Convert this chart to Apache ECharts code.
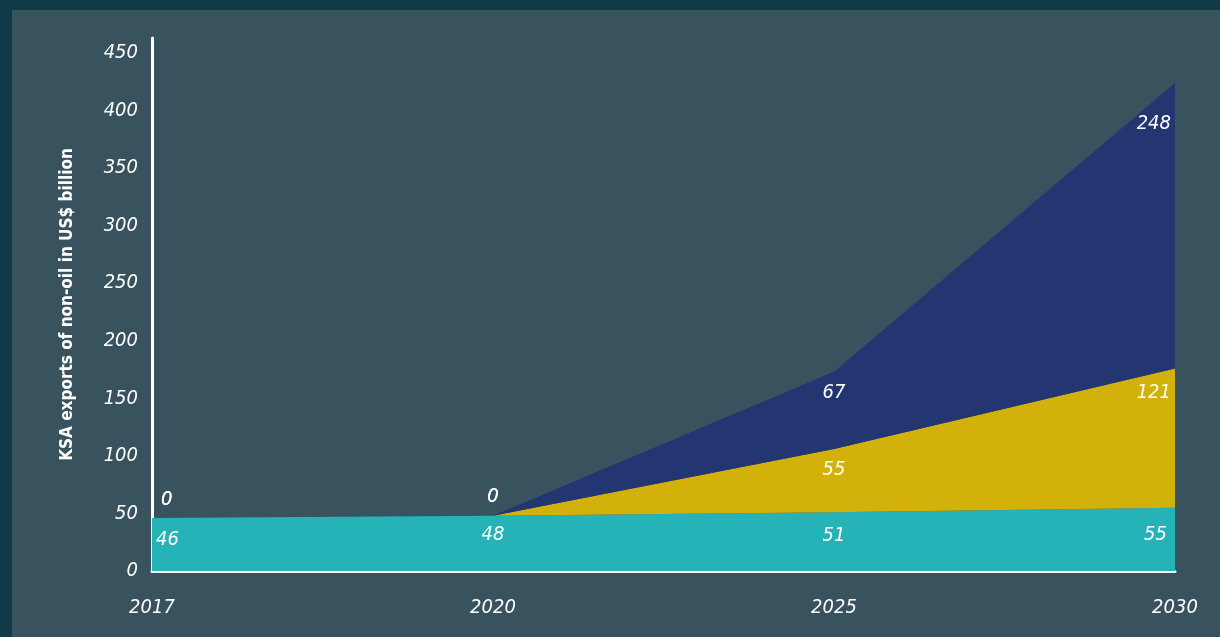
<!DOCTYPE html>
<html>
<head>
<meta charset="utf-8">
<script src="https://cdn.jsdelivr.net/npm/echarts@6/dist/echarts.min.js"></script>
<style>
html,body{margin:0;padding:0;width:1220px;height:637px;background:#103a45;overflow:hidden;}
#c{position:absolute;left:12px;top:10px;width:1208px;height:627px;background:#38525e;}
</style>
</head>
<body>
<div id="c"></div>
<script>
const years = ['2017', '2020', '2025', '2030'];
const baseExports = [46, 48, 51, 55];
const midExports = [0, 0, 55, 121];
const topExports = [0, 0, 67, 248];
const yAxisTitle = 'KSA exports of non-oil in US$ billion';

const FONT = "'Liberation Sans Narrow', 'DejaVu Sans Condensed', 'Roboto', sans-serif";

function labelFor(i, v, below) {
  const align = i === 0 ? 'left' : (i === years.length - 1 ? 'right' : 'center');
  const dx = i === 0 ? (v === 0 ? 9 : 4) : (i === years.length - 1 ? (v > 100 ? -4 : -8) : 0);
  if (v === 0) {
    return { position: 'top', distance: 8, align: align, offset: [dx, 0] };
  }
  return { position: 'bottom', distance: below, align: align, offset: [dx, 0] };
}

function build(values, distances) {
  return values.map((v, i) => ({ value: v, label: labelFor(i, v, distances[i]) }));
}

const chart = echarts.init(document.getElementById('c'), null, { renderer: 'canvas' });

const commonLabel = {
  show: true,
  color: '#ffffff',
  fontSize: 20,
  fontStyle: 'italic',
  fontFamily: FONT
};

function areaSeries(name, values, color, distances) {
  return {
    name: name,
    type: 'line',
    stack: 'total',
    data: build(values, distances),
    symbol: 'circle',
    symbolSize: 1,
    showSymbol: true,
    itemStyle: { color: 'rgba(0,0,0,0)' },
    lineStyle: { width: 0, color: color },
    areaStyle: { color: color, opacity: 1 },
    label: commonLabel,
    emphasis: { disabled: true },
    silent: true,
    animation: false
  };
}

chart.setOption({
  animation: false,
  grid: { left: 140, right: 45, top: 28, bottom: 66, containLabel: false },
  xAxis: {
    type: 'category',
    data: years,
    boundaryGap: false,
    axisLine: { show: true, lineStyle: { color: '#ffffff', width: 3 } },
    axisTick: { show: false },
    axisLabel: {
      color: '#ffffff', fontSize: 20, fontStyle: 'italic', fontFamily: FONT,
      margin: 27
    },
    splitLine: { show: false }
  },
  yAxis: {
    type: 'value',
    min: 0,
    max: 463,
    interval: 50,
    name: yAxisTitle,
    nameLocation: 'middle',
    nameGap: 76,
    nameTextStyle: { color: '#ffffff', fontSize: 17, fontWeight: 'bold', fontFamily: FONT },
    axisLine: { show: true, lineStyle: { color: '#ffffff', width: 3 } },
    axisTick: { show: false },
    axisLabel: {
      color: '#ffffff', fontSize: 20, fontStyle: 'italic', fontFamily: FONT,
      margin: 14,
      formatter: function (v) { return v % 50 === 0 ? String(v) : ''; }
    },
    splitLine: { show: false }
  },
  series: [
    areaSeries('base', baseExports, '#26b3b7', [11, 9, 13, 17]),
    areaSeries('mid', midExports, '#d1b10a', [10, 10, 10, 14]),
    areaSeries('top', topExports, '#233671', [10, 10, 10, 30])
  ]
});
</script>
</body>
</html>
